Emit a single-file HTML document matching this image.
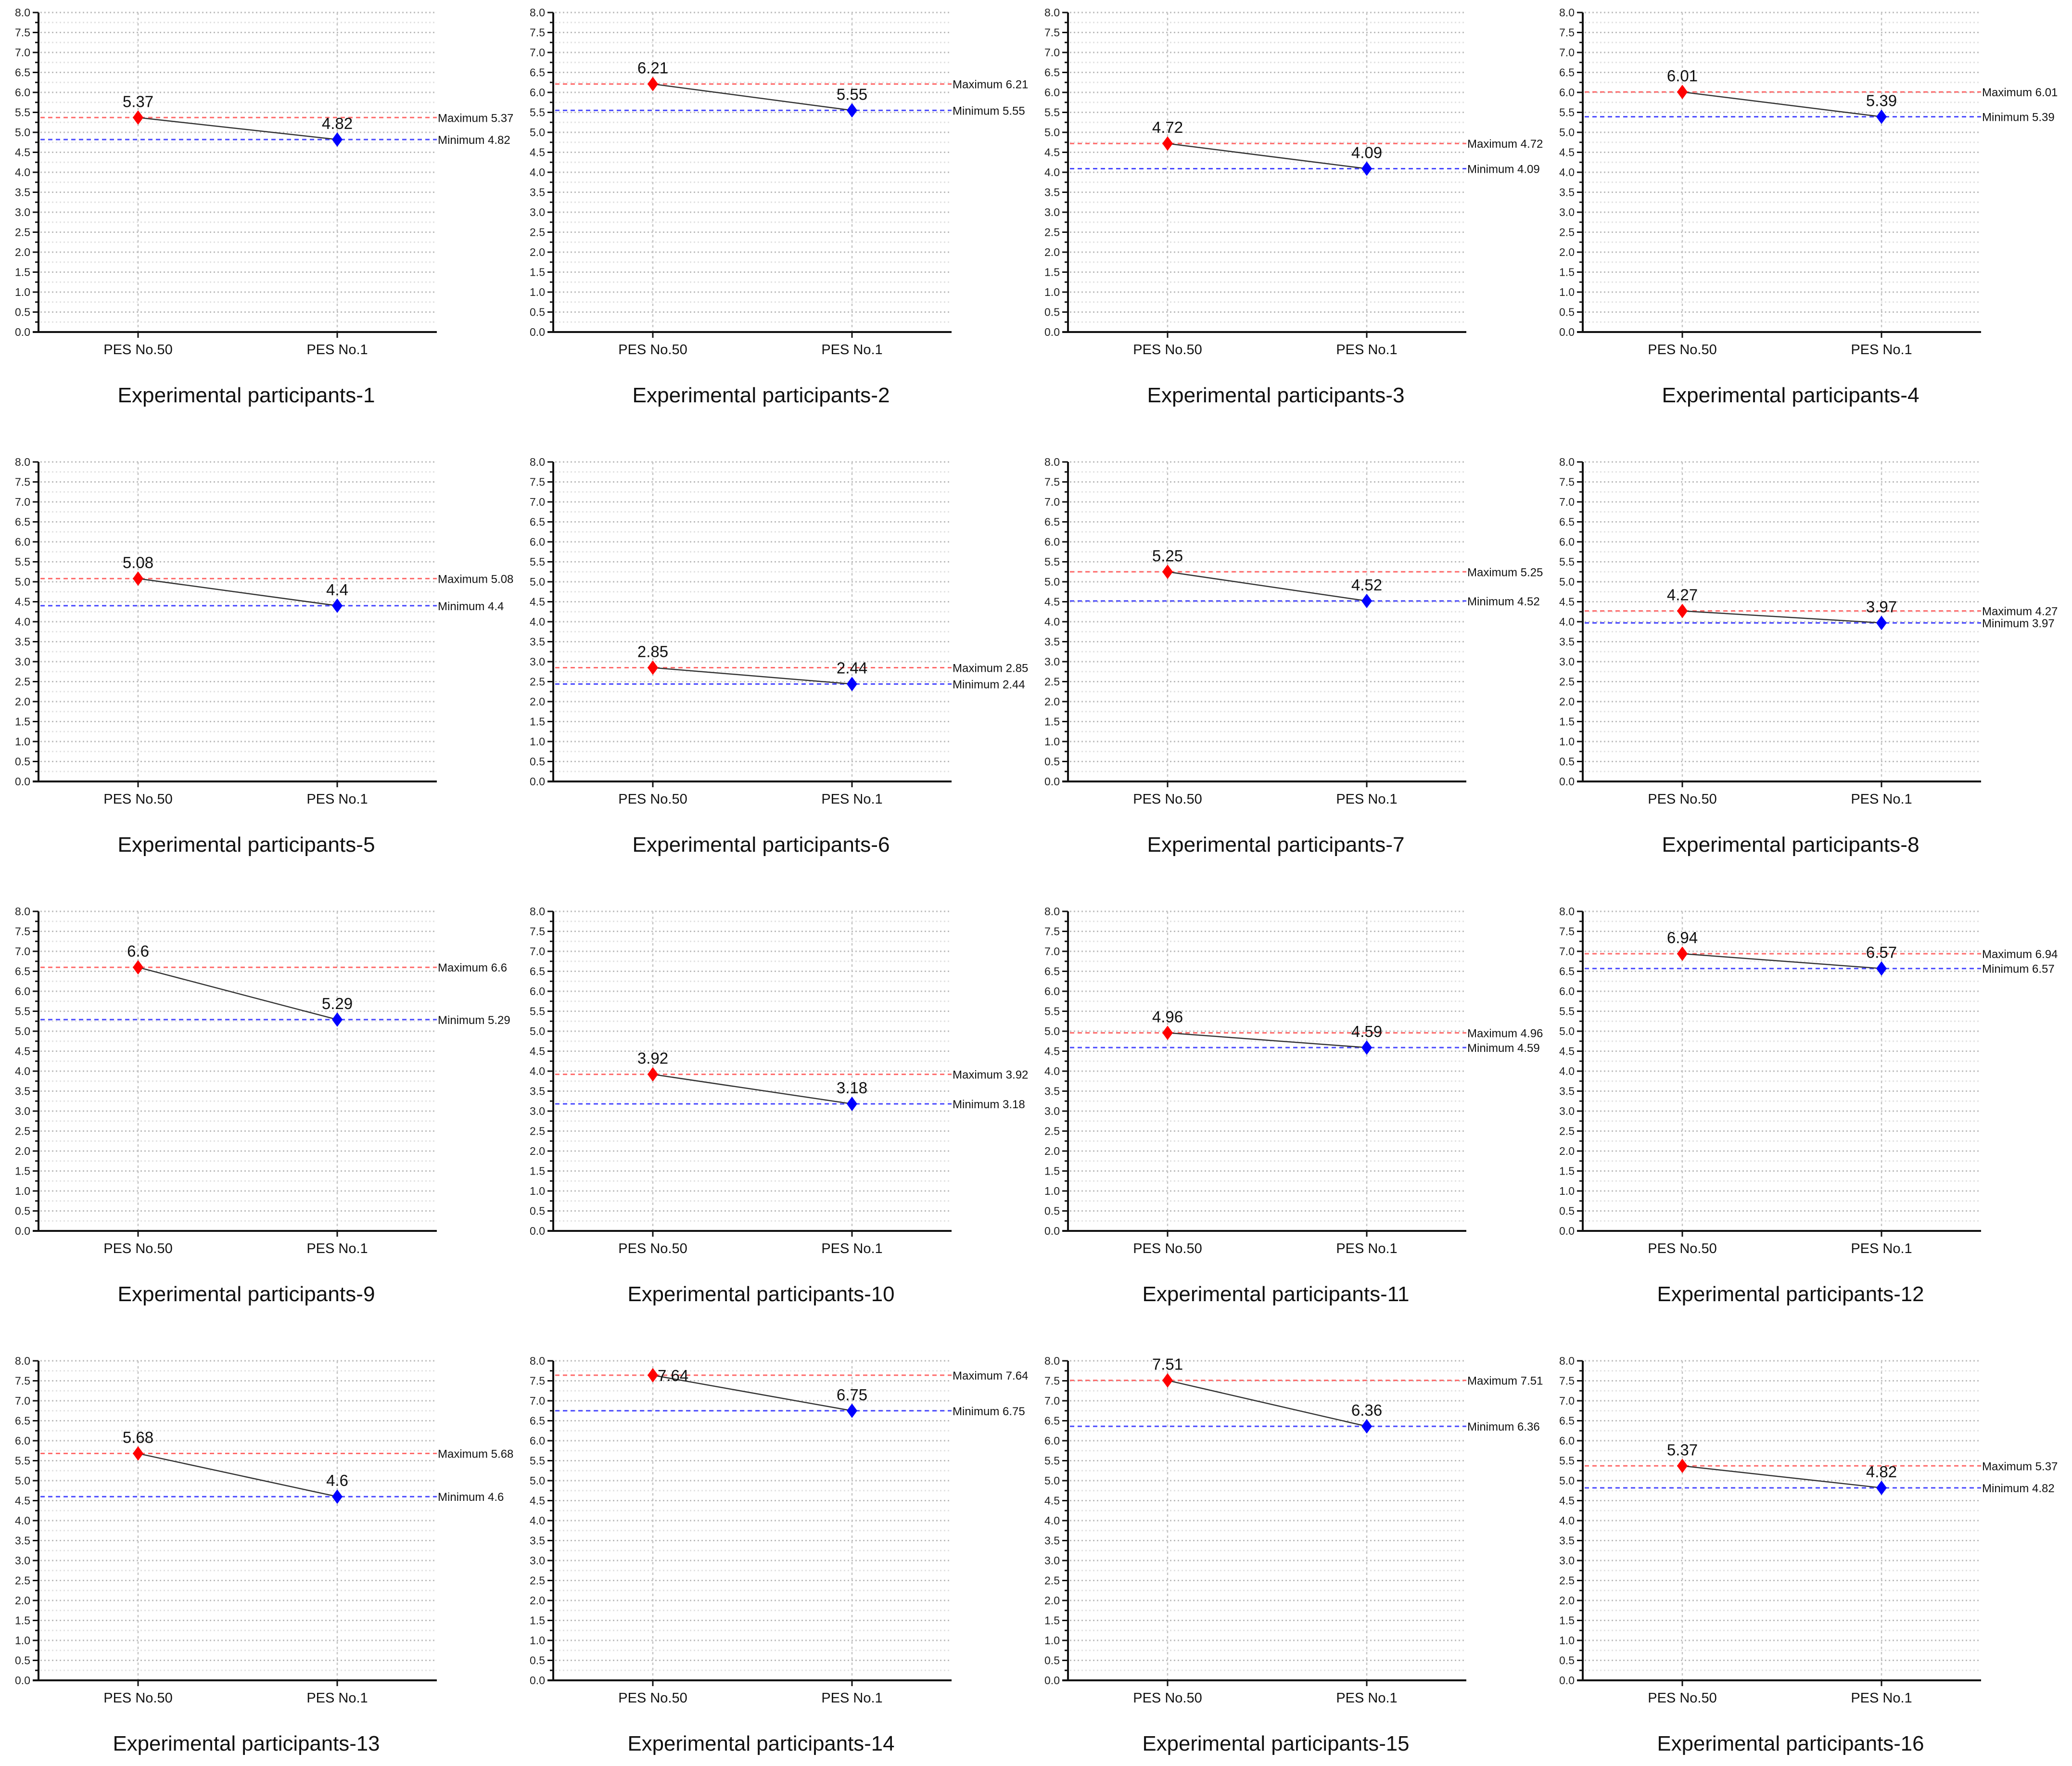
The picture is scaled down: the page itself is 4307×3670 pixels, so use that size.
<!DOCTYPE html>
<html><head><meta charset="utf-8"><style>
html,body{margin:0;padding:0;background:#fff;}
svg{display:block;}
</style></head><body>
<svg id="chart" xmlns="http://www.w3.org/2000/svg" width="4307" height="3670" viewBox="0 0 4307 3670"></svg>
<script>
const categories = ["PES No.50", "PES No.1"];
const participants = ["1","2","3","4","5","6","7","8","9","10","11","12","13","14","15","16"];
const pes50Values = [5.37,6.21,4.72,6.01,5.08,2.85,5.25,4.27,6.6,3.92,4.96,6.94,5.68,7.64,7.51,5.37];
const pes1Values = [4.82,5.55,4.09,5.39,4.4,2.44,4.52,3.97,5.29,3.18,4.59,6.57,4.6,6.75,6.36,4.82];
const yTicks = [0,0.5,1,1.5,2,2.5,3,3.5,4,4.5,5,5.5,6,6.5,7,7.5,8];

const NS = "http://www.w3.org/2000/svg";
const svg = document.getElementById("chart");
function mk(tag, attrs, parent) {
  const e = document.createElementNS(NS, tag);
  for (const k in attrs) e.setAttribute(k, attrs[k]);
  (parent || svg).appendChild(e);
  return e;
}
const W = 828, H = 664, COLW = 1070, ROWH = 934, X0 = 80, Y0 = 26;
const FONT = '"Liberation Sans", Arial, sans-serif';

participants.forEach((p, i) => {
  const col = i % 4, row = Math.floor(i / 4);
  const ox = X0 + col * COLW, oy = Y0 + row * ROWH;
  const g = mk("g", {});
  
  
  const ys = v => oy + H - (v / 8) * H;
  const xs = c => ox + W * (c === 0 ? 0.25 : 0.75);

  for (let k = 1; k <= 32; k++) {
    const v = k * 0.25, major = k % 2 === 0;
    const gl = mk("line", {x1: ox + 4, x2: ox + W, y1: ys(v), y2: ys(v),
      stroke: major ? "#bdbdbd" : "#e2e2e2", "stroke-width": 3, "stroke-dasharray": "3 5"}, g);
    
    
  }
  categories.forEach((c, ci) => {
    const vl = mk("line", {x1: xs(ci), x2: xs(ci), y1: oy, y2: oy + H,
      stroke: "#c4c4c4", "stroke-width": 2.5, "stroke-dasharray": "5 6"}, g);
    
    
  });

  for (let k = 0; k <= 32; k++) {
    const v = k * 0.25;
    const tk = mk("line", {x1: ox - (k % 2 === 0 ? 12 : 7), x2: ox, y1: ys(v), y2: ys(v), stroke: "#111", "stroke-width": 3}, g);
    
    
  }
  yTicks.forEach(v => {
    const t = mk("text", {x: ox - 17, y: ys(v) + 8, "text-anchor": "end", "font-size": 23, "font-family": FONT, fill: "#222"}, g);
    t.textContent = v.toFixed(1);
    
    
  });

  const ya = mk("line", {x1: ox, x2: ox, y1: oy, y2: oy + H + 1.5, stroke: "#111", "stroke-width": 4}, g);
  
  
  const xa = mk("line", {x1: ox - 12, x2: ox + W, y1: oy + H, y2: oy + H, stroke: "#111", "stroke-width": 4}, g);
  
  
  categories.forEach((c, ci) => {
    const tk = mk("line", {x1: xs(ci), x2: xs(ci), y1: oy + H, y2: oy + H + 12, stroke: "#111", "stroke-width": 3}, g);
    
    
    const t = mk("text", {x: xs(ci), y: oy + H + 46, "text-anchor": "middle", "font-size": 29, "font-family": FONT, fill: "#111"}, g);
    t.textContent = c;
    
    
  });

  const vmax = pes50Values[i], vmin = pes1Values[i];
  const rl = mk("line", {x1: ox + 4, x2: ox + W, y1: ys(vmax), y2: ys(vmax), stroke: "#ff6b6b", "stroke-width": 3, "stroke-dasharray": "9 7"}, g);
  
  
  const bl = mk("line", {x1: ox + 4, x2: ox + W, y1: ys(vmin), y2: ys(vmin), stroke: "#4a4aff", "stroke-width": 3, "stroke-dasharray": "9 7"}, g);
  
  
  const mt = mk("text", {x: ox + W + 2, y: ys(vmax) + 9, "font-size": 24, "font-family": FONT, fill: "#111"}, g);
  mt.textContent = "Maximum " + vmax;
  
  
  const nt = mk("text", {x: ox + W + 2, y: ys(vmin) + 9, "font-size": 24, "font-family": FONT, fill: "#111"}, g);
  nt.textContent = "Minimum " + vmin;
  
  

  const ln = mk("line", {x1: xs(0), y1: ys(vmax), x2: xs(1), y2: ys(vmin), stroke: "#333", "stroke-width": 2.5}, g);
  
  

  [[vmax, "#ff0000", 0], [vmin, "#0000ff", 1]].forEach(([v, color, ci]) => {
    const cx = xs(ci), cy = ys(v), r = 15;
    const d = mk("polygon", {points: `${cx},${cy - r} ${cx + 11},${cy} ${cx},${cy + r} ${cx - 11},${cy}`, fill: color}, g);
    
    
    const right = v > 7.6;
    const t = mk("text", {x: right ? cx + 10 : cx, y: right ? cy + 12 : cy - 22, "text-anchor": right ? "start" : "middle",
      "font-size": 33, "font-family": FONT, fill: "#111"}, g);
    t.textContent = String(v);
    
    
  });

  const tt = mk("text", {x: ox + 432, y: oy + 810, "text-anchor": "middle", "font-size": 44, "font-family": FONT, fill: "#111",
    textLength: p.length > 1 ? 555 : 535, lengthAdjust: "spacingAndGlyphs"}, g);
  tt.textContent = "Experimental participants-" + p;
  
  
});
</script>
</body></html>
